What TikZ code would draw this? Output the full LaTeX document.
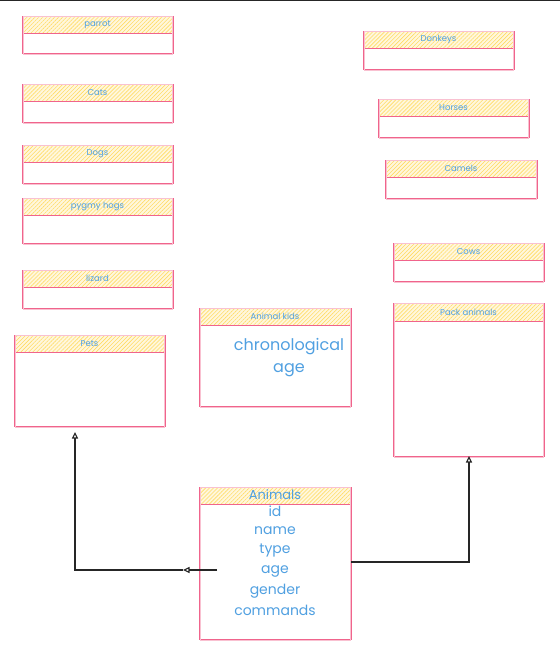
\documentclass[tikz,border=0pt]{standalone}
\usepackage{fontspec}
\setmainfont{Poppins}
\usetikzlibrary{patterns.meta,arrows.meta}
\definecolor{pinkline}{RGB}{240,100,140}
\definecolor{hatchy}{RGB}{255,220,100}
\definecolor{txtblue}{RGB}{80,160,225}
\tikzset{
  boxline/.style={draw=pinkline, line width=1pt},
  hatchbase/.style={fill=hatchy!22},
  hatchfill/.style={pattern={Lines[angle=45,distance=2.8pt,line width=0.6pt]}, pattern color=hatchy},
  hdrtext/.style={text=txtblue, font=\fontsize{8.5}{10}\selectfont, inner sep=0pt},
  bigtext/.style={text=txtblue, font=\fontsize{16}{22}\selectfont, inner sep=0pt, align=center},
  fieldtext/.style={text=txtblue, font=\fontsize{14}{20}\selectfont, inner sep=0pt, align=center},
  conn/.style={draw=black!85, line width=1.1pt},
  tip/.style={-{Triangle[open,length=6.5pt,width=6pt]}}
}
% name, x1, y1, x2, yh, y2, title
\newcommand\entbox[7]{%
  \draw[boxline, fill=white] (#2,#3) rectangle (#4,#6);
  \path[hatchbase] (#2,#3) rectangle (#4,#5);
  \path[hatchfill] (#2,#3) rectangle (#4,#5);
  \draw[boxline] (#2,#3) rectangle (#4,#5);
  \draw[draw=pinkline!40, line width=0.6pt] ([shift={(0.8,0.6)}]#2,#3) rectangle ([shift={(-0.6,0.8)}]#4,#6);
  \node[hdrtext] (#1) at ({(#2+#4)/2},{(#3+#5)/2}) {#7};
  \coordinate (#1-top) at ({(#2+#4)/2},#3);
  \coordinate (#1-bot) at ({(#2+#4)/2},#6);
}
\begin{document}
\begin{tikzpicture}[x=1pt,y=-1pt]
\useasboundingbox (0,0) rectangle (560,654);
\draw[black!85, line width=1.5pt] (0,0.5) -- (560,0.5);
\entbox{parrot}{22}{16}{173}{33}{53}{parrot}
\entbox{cats}{22}{84}{173}{101}{122}{Cats}
\entbox{dogs}{22}{145}{173}{162}{183}{Dogs}
\entbox{hogs}{22}{198}{173}{215}{243}{pygmy hogs}
\entbox{lizard}{22}{270}{173}{287}{308}{lizard}
\entbox{pets}{14}{335}{165}{352}{426}{Pets}
\entbox{donkeys}{363}{31}{514}{48}{69}{Donkeys}
\entbox{horses}{378}{99}{529}{116}{137}{Horses}
\entbox{camels}{385}{160}{537}{177}{198}{Camels}
\entbox{cows}{393}{243}{544}{260}{281}{Cows}
\entbox{pack}{393}{303}{544}{321}{456}{Pack animals}
\entbox{kids}{199}{308}{351}{325}{406}{Animal kids}
\node[bigtext] (chrono) at (289,358) {chronological\\age};
\entbox{animals}{199}{487}{351}{504}{639}{}
\node[text=txtblue, font=\fontsize{13}{14}\selectfont, inner sep=0pt] (animalsT) at (275,495) {Animals};
\node[fieldtext] (fid) at (275,511) {id};
\node[fieldtext] (fname) at (275,531) {name};
\node[fieldtext] (ftype) at (275,551) {type};
\node[fieldtext] (fage) at (275,571) {age};
\node[fieldtext] (fgender) at (275,591) {gender};
\node[fieldtext] (fcmd) at (275,610) {commands};
\coordinate (lstart) at (217,570);
\coordinate (lmid) at (183,570);
\coordinate (lcorner) at (75,570);
\coordinate (petsin) at (75,432);
\coordinate (rstart) at (351,562);
\coordinate (rcorner) at (469,562);
\coordinate (packin) at (469,456);
\draw[conn, tip] (lstart) -- (lmid);
\draw[conn, tip] (lmid) -- (lcorner) -- (petsin);
\draw[conn, tip] (rstart) -- (rcorner) -- (packin);
\end{tikzpicture}
\end{document}
